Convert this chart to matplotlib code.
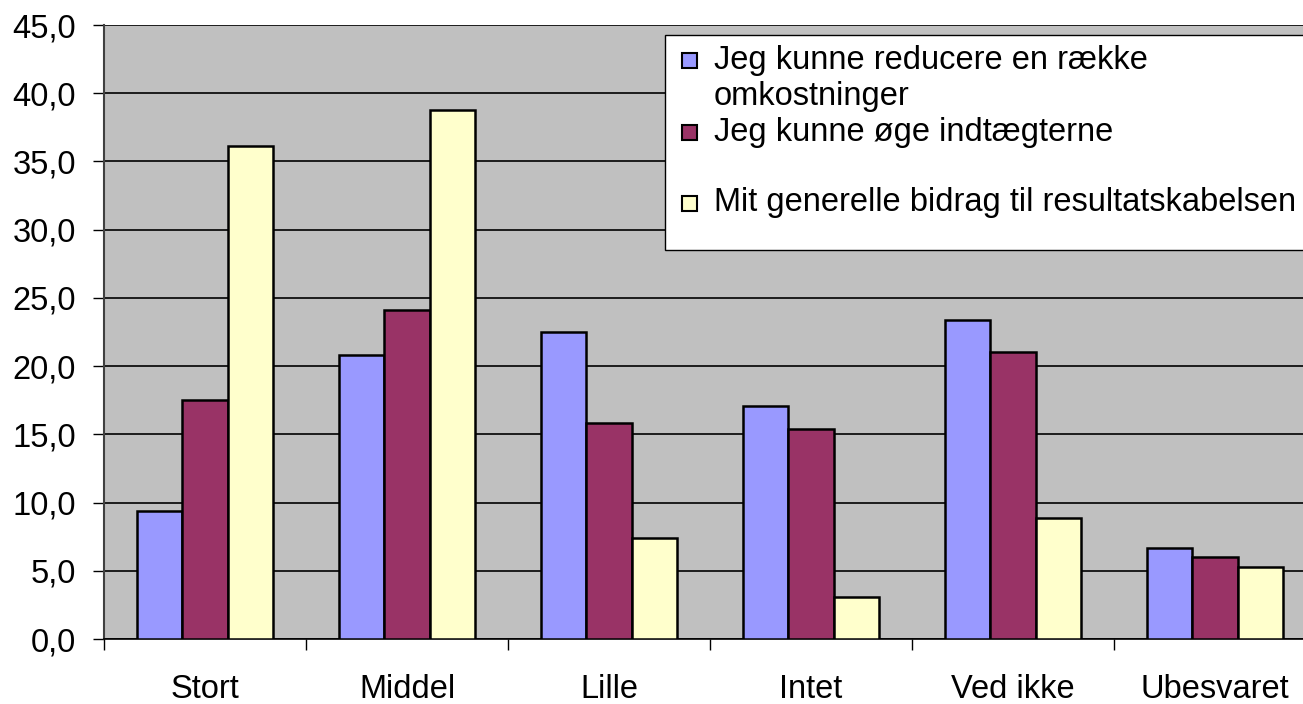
import numpy as np
import matplotlib
matplotlib.use('Agg')
import matplotlib.pyplot as plt
from matplotlib.patches import Rectangle

categories = ['Stort', 'Middel', 'Lille', 'Intet', 'Ved ikke', 'Ubesvaret']
series_names = ['Jeg kunne reducere en række\nomkostninger',
                'Jeg kunne øge indtægterne',
                'Mit generelle bidrag til resultatskabelsen']
reducere = [9.4, 20.8, 22.5, 17.1, 23.4, 6.7]
oege = [17.5, 24.1, 15.8, 15.4, 21.0, 6.0]
generelle = [36.1, 38.8, 7.4, 3.1, 8.9, 5.3]
yticks = [0, 5, 10, 15, 20, 25, 30, 35, 40, 45]
ytick_labels = ['0,0', '5,0', '10,0', '15,0', '20,0', '25,0', '30,0', '35,0', '40,0', '45,0']

colors = ['#9999FF', '#993366', '#FFFFCC']

plt.rcParams['font.family'] = ['Liberation Sans', 'DejaVu Sans']

W, H = 1303, 704
fig = plt.figure(figsize=(W / 100, H / 100), dpi=100)
ax = fig.add_axes([104 / W, (H - 639) / H, 1212 / W, 614 / H])
ax.set_facecolor('#C0C0C0')

x = np.arange(len(categories))
bw = 0.225
for i, vals in enumerate([reducere, oege, generelle]):
    ax.bar(x + (i - 1) * bw, vals, bw, color=colors[i], edgecolor='black',
           linewidth=1.8, zorder=3)

ax.set_xlim(-0.5, len(categories) - 0.5)
ax.set_ylim(0, 45)
ax.set_yticks(yticks)
ax.set_yticklabels(ytick_labels)
ax.yaxis.grid(True, color='black', linewidth=1.2, zorder=0)
ax.set_axisbelow(True)

ax.set_xticks(np.arange(len(categories) + 1) - 0.5)
ax.set_xticklabels([])
ax.set_xticks(x, minor=True)
ax.set_xticklabels(categories, minor=True)
ax.tick_params(axis='x', which='major', length=8, width=1, direction='out')
ax.tick_params(axis='x', which='minor', length=0, pad=25, labelsize=23.5)
ax.tick_params(axis='y', length=8, width=1, pad=12, labelsize=23.5)

for s in ['top', 'right']:
    ax.spines[s].set_visible(False)
ax.spines['left'].set_color('#404040')
ax.spines['left'].set_linewidth(1.5)
ax.spines['bottom'].set_linewidth(1.2)

# legend box, laid out like the Excel one
def fx(px):
    return px / W

def fy(py):
    return 1 - py / H

fig.patches.append(Rectangle((fx(665), fy(250)), fx(660), 215 / H, transform=fig.transFigure,
                             facecolor='white', edgecolor='black', linewidth=1.0, zorder=10))
marker_y = [60, 132, 203]
for c, my in zip(colors, marker_y):
    fig.patches.append(Rectangle((fx(682), fy(my + 8)), 15 / W, 15 / H, transform=fig.transFigure,
                                 facecolor=c, edgecolor='black', linewidth=1.5, zorder=11))
label_lines = [(series_names[0].split('\n')[0], 60), (series_names[0].split('\n')[1], 97),
               (series_names[1], 132), (series_names[2], 203)]
for txt, ty in label_lines:
    fig.text(fx(714), fy(ty), txt, fontsize=23.5, va='center', ha='left', zorder=12)

fig.savefig('out.png', dpi=100)
